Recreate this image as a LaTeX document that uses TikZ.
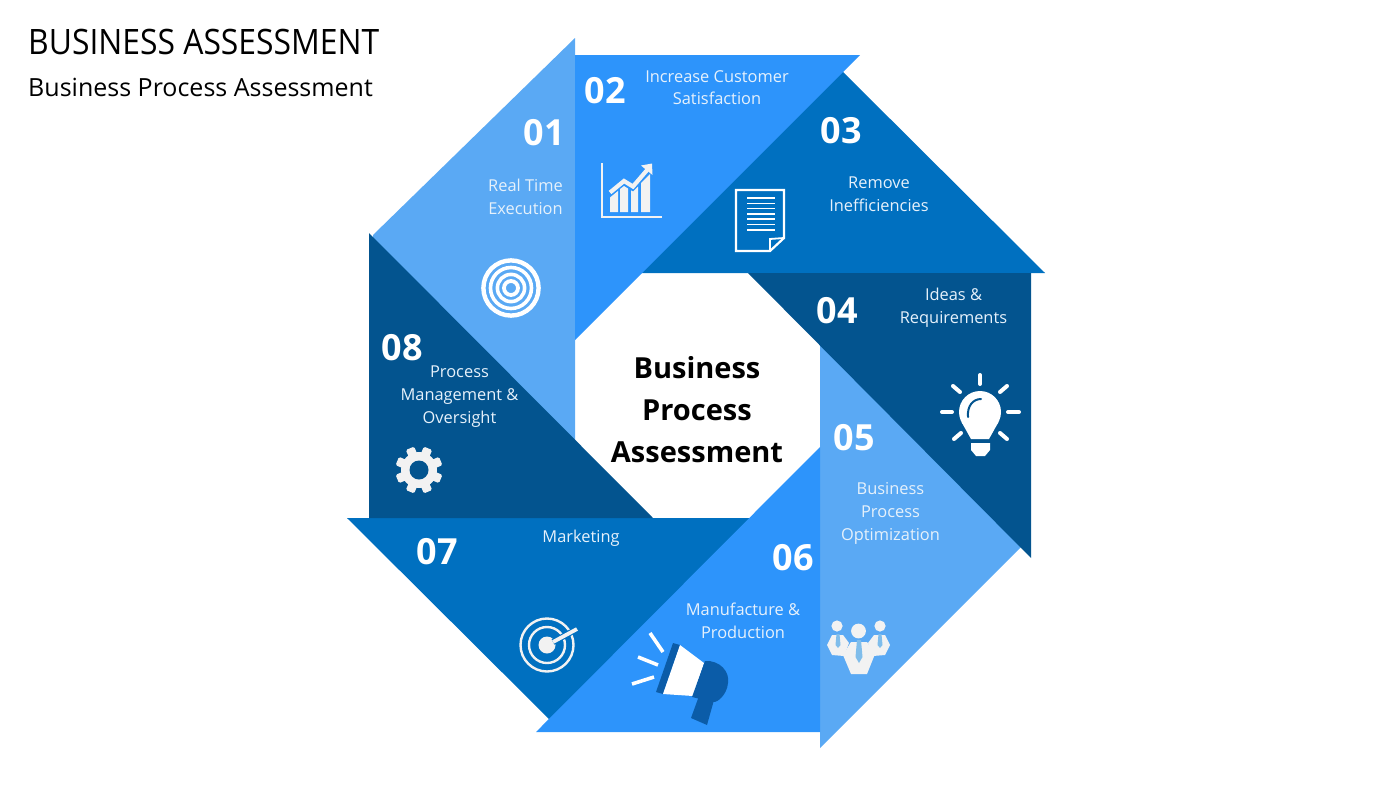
\documentclass[tikz,border=0pt]{standalone}
\usepackage{fontspec}
\setmainfont{Open Sans}
\newfontfamily\titlefont[FakeStretch=0.91]{Open Sans}
\definecolor{lightb}{HTML}{5AA9F4}
\definecolor{midb}{HTML}{2D94FB}
\definecolor{deepb}{HTML}{0070C0}
\definecolor{darkb}{HTML}{03548F}
\definecolor{megab}{HTML}{0B5CA8}
\definecolor{iconw}{HTML}{F2F2F2}
\definecolor{tieb}{HTML}{7FBDEB}
\definecolor{labelw}{HTML}{E6F1FB}
\tikzset{
  px/.style={x=1pt,y=-1pt},
  num/.style={text=white,font=\bfseries\fontsize{36}{36}\selectfont,inner sep=0pt,anchor=center},
  lab/.style={text=labelw,font=\fontsize{16.4}{22.7}\selectfont,align=center,inner sep=0pt,anchor=center},
  ray/.style={draw=white,line width=4pt,line cap=round},
}
\begin{document}
\begin{tikzpicture}[px]
\useasboundingbox (0,0) rectangle (1400,788);
% segments, drawn so that the overlapped edges leave no seam
\fill[lightb] (575,38) -- (373,235) -- (373,240) -- (575,442) -- cycle;
\fill[deepb] (840,69) -- (1045,273) -- (636,273) -- cycle;
\fill[midb] (575,55) -- (860,55) -- (575,340) -- cycle;
\fill[lightb] (820,340) -- (1025,543) -- (820,748) -- cycle;
\fill[darkb] (748,273) -- (1031,273) -- (1031,558) -- cycle;
\fill[deepb] (347,518) -- (756,518) -- (552,722) -- cycle;
\fill[midb] (536,732) -- (820,447) -- (820,732) -- cycle;
\fill[darkb] (369,233) -- (653,518) -- (369,518) -- cycle;
% header
\node[anchor=west,inner sep=0pt,font=\titlefont\fontsize{35}{35}\selectfont] (title) at (28,42) {BUSINESS ASSESSMENT};
\node[anchor=west,inner sep=0pt,font=\fontsize{25}{25}\selectfont] (sub) at (28,87) {Business Process Assessment};
% centre
\node[inner sep=0pt,align=center,font=\bfseries\fontsize{29}{42}\selectfont] (centre) at (697,410) {Business\\Process\\Assessment};
% numbers
\node[num] (n1) at (544,133) {01};
\node[num] (n2) at (605,90.5) {02};
\node[num] (n3) at (841.5,131) {03};
\node[num] (n4) at (837.5,310.5) {04};
\node[num] (n5) at (854.5,438) {05};
\node[num] (n6) at (793,558) {06};
\node[num] (n7) at (437,552) {07};
\node[num] (n8) at (402,347.5) {08};
% labels
\node[lab] (l1) at (525.5,197) {Real Time\\Execution};
\node[lab] (l2) at (717,87.5) {Increase Customer\\Satisfaction};
\node[lab] (l3) at (879,194) {Remove\\Inefficiencies};
\node[lab] (l4) at (953.5,307.5) {Ideas \&\\Requirements};
\node[lab] (l5) at (890.5,513.5) {Business\\Process\\Optimization};
\node[lab] (l6) at (743,620.5) {Manufacture \&\\Production};
\node[lab] (l7) at (581,538) {Marketing};
\node[lab] (l8) at (459.5,396.5) {Process\\Management \&\\Oversight};
% icon 01: rings
\draw[white,line width=4.4pt] (511,288) circle (27.6);
\draw[white,line width=3.6pt] (511,288) circle (20.5);
\draw[white,line width=3.6pt] (511,288) circle (13.6);
\draw[white,line width=3.8pt] (511,288) circle (7);
% icon 02: chart
\draw[iconw,line width=1.6pt] (602,163) -- (602,217) -- (662,217);
\fill[iconw] (610,212) -- (610,197.5) -- (618,191) -- (618,212) -- cycle;
\fill[iconw] (620,212) -- (620,189) -- (624,186) -- (628,188.5) -- (628,212) -- cycle;
\fill[iconw] (631,212) -- (631,190.3) -- (633,191.5) -- (638,186.7) -- (638,212) -- cycle;
\fill[iconw] (641,212) -- (641,183) -- (650,174) -- (650,212) -- cycle;
\draw[iconw,line width=4.2pt] (610,192.5) -- (624,181) -- (633,186.5) -- (648,169);
\fill[iconw] (652,163.5) -- (652.5,175) -- (641,165.5) -- cycle;
% icon 03: document
\draw[white,line width=2.2pt,line join=miter] (736,190) -- (784,190) -- (784,238) -- (770,251) -- (736,251) -- cycle;
\draw[white,line width=1.8pt] (784,238) -- (770,239) -- (770,251);
\foreach \yy in {198,203.3,208.6,213.9,219.2,224.5,229.8} \draw[white,line width=1.6pt] (747,\yy) -- (775,\yy);
% icon 04: bulb
\foreach \a/\b/\c/\d in {980/375/980/384, 942/412/952/412, 1008/412/1019/412, 953/386/960/392, 1007/386/1000/392, 954/439/961/433, 1007/439/1000/433}
  \draw[ray] (\a,\b) -- (\c,\d);
\fill[white] (980,412) circle (21);
\fill[white] (961.5,422) -- (998.5,422) -- (989,439) -- (971,439) -- cycle;
\fill[white] (971,443) -- (990,443) -- (990,450) -- (985,456) -- (976,456) -- (971,450) -- cycle;
\draw[darkb,line width=2pt,line cap=round] (968,417) .. controls (967,406) and (973,399) .. (981,399);
% icon 05: people
\begin{scope}[iconw]
\fill (837,626) circle (5.6);
\fill (880,626) circle (5.6);
\fill (827,645) -- (832,635) -- (843,635) -- (849,643) -- (844,656) -- (832,655) -- cycle;
\fill (890,645) -- (885,635) -- (874,635) -- (868,643) -- (873,656) -- (885,655) -- cycle;
\fill (858.5,631) circle (7.4);
\fill (843,655) -- (851,642) -- (867,642) -- (875,654) -- (867,674) -- (851,674) -- cycle;
\end{scope}
\fill[tieb] (836.5,634) -- (839.5,634) -- (840.5,645) -- (838,648) -- (835.5,645) -- cycle;
\fill[tieb] (878.5,634) -- (881.5,634) -- (882.5,645) -- (880,648) -- (877.5,645) -- cycle;
\fill[tieb] (857,640) -- (861,640) -- (862.5,657) -- (859,663) -- (855.5,657) -- cycle;
% icon 07: target with dart
\draw[iconw,line width=2.4pt] (547,645) circle (26.5);
\draw[iconw,line width=2.4pt] (547,645) circle (18);
\fill[iconw] (547,645) circle (8.5);
\draw[deepb,line width=6pt] (553,642) -- (577,629);
\draw[iconw,line width=3.8pt] (553,642) -- (577,629);
% icon 06: megaphone
\foreach \a/\b/\c/\d in {650/633/663/652, 638/657/658/665, 632/684/654/677}
  \draw[white,line width=3.6pt] (\a,\b) -- (\c,\d);
\fill[megab] (673,643) -- (680,645) -- (663,694) -- (656,692) -- cycle;
\fill[white] (680,645) -- (704,663) -- (693,696) -- (663,694) -- cycle;
\fill[megab] (705,661) .. controls (720,660) and (730,672) .. (728,683) .. controls (727,695) and (717,703) .. (713,702) -- (692,697) -- cycle;
\fill[megab] (699,696) -- (714,700) -- (707,725) -- (691,718) -- cycle;
% icon 08: gear
\foreach \i in {0,45,...,315}
  \fill[iconw,rounded corners=1.5pt,rotate around={\i+22.5:(419,470)}] (414.5,446.5) rectangle (423.5,458);
\fill[iconw] (419,470) circle (18);
\fill[darkb] (419,470) circle (9.5);
\end{tikzpicture}
\end{document}
